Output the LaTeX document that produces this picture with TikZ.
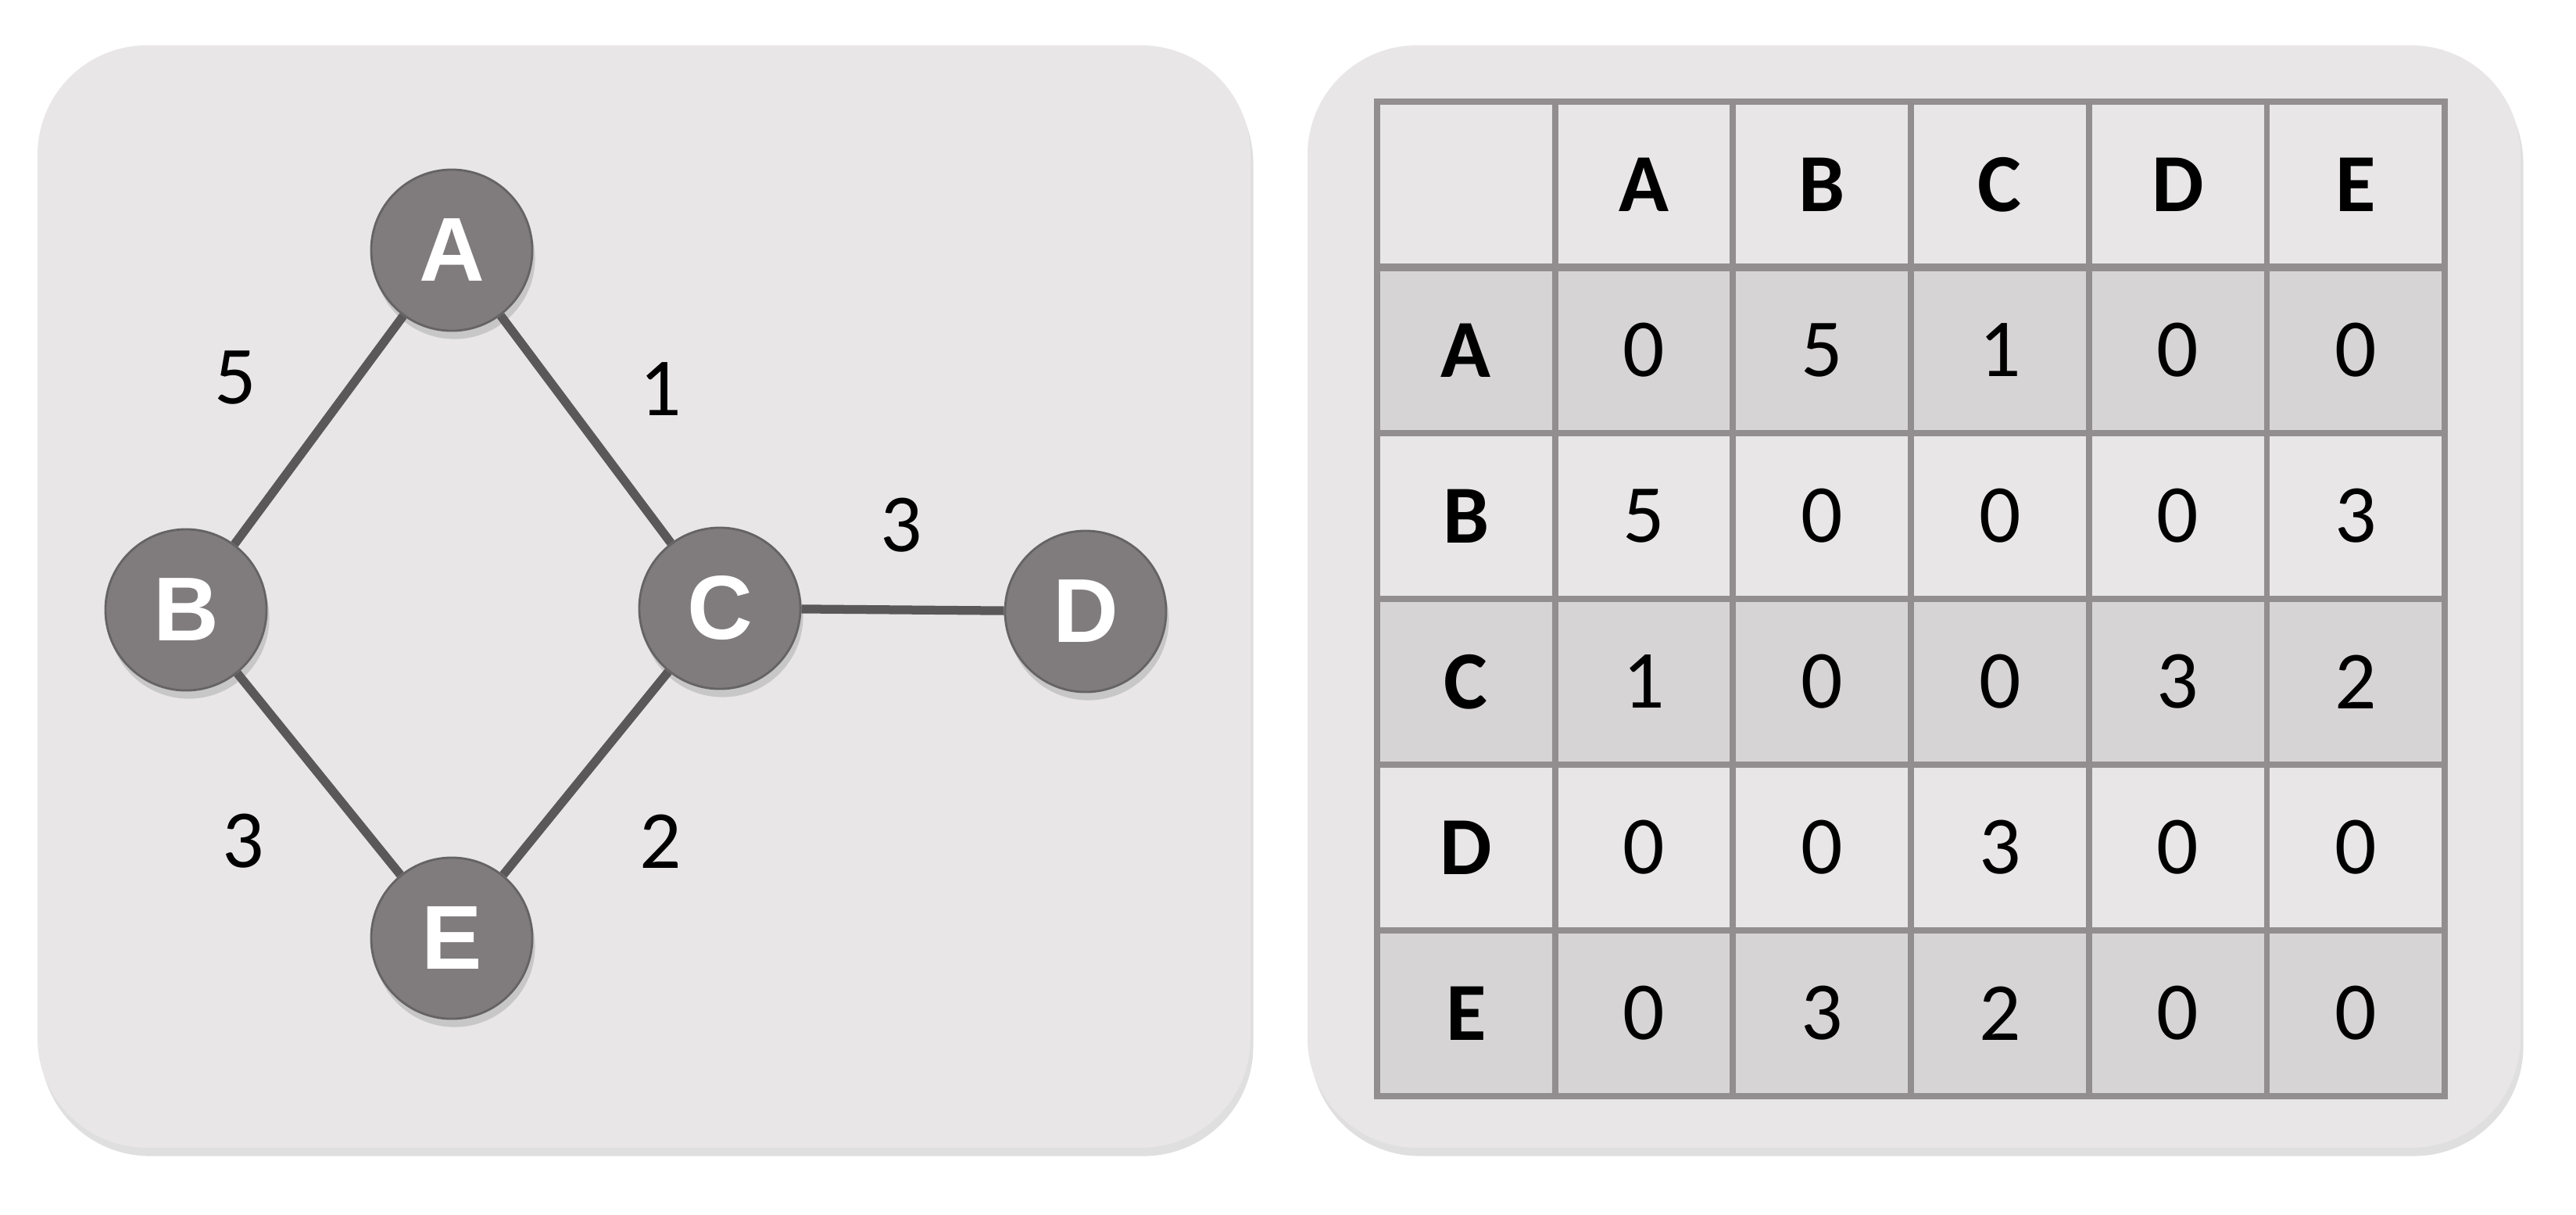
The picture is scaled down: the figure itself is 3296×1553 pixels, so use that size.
\documentclass[tikz,border=0pt]{standalone}
\usepackage{fontspec}
\setmainfont{Carlito}
\newfontfamily\vertexfont{Liberation Sans}
\usetikzlibrary{shadows}
\definecolor{panelgray}{HTML}{E8E6E7}
\definecolor{rowgray}{HTML}{D6D4D5}
\definecolor{gridgray}{HTML}{928E8F}
\definecolor{vertexgray}{HTML}{807C7D}
\definecolor{edgegray}{HTML}{5A5859}
\tikzset{
    panel/.style={fill=panelgray, rounded corners=1.4cm,
        drop shadow={shadow xshift=1pt, shadow yshift=-3pt, opacity=.25}},
    vertex/.style={circle, fill=vertexgray, draw=vertexgray!80!black, line width=.8pt,
        minimum size=2.06cm, inner sep=0pt, text=white,
        font=\vertexfont\bfseries\fontsize{33}{38}\selectfont,
        drop shadow={shadow xshift=1pt, shadow yshift=-3pt, opacity=.3}},
    edge/.style={draw=edgegray, line width=3.2pt},
    weight/.style={inner sep=0pt, font=\fontsize{30}{36}\selectfont},
    cell/.style={inner sep=0pt, font=\fontsize{30}{36}\selectfont},
    head/.style={inner sep=0pt, font=\bfseries\fontsize{30}{36}\selectfont},
    grid/.style={draw=gridgray, line width=2.2pt}
}
\begin{document}
\begin{tikzpicture}[x=0.01cm, y=-0.01cm]
        \fill[white] (0,0) rectangle (3296,1553);
        \path[panel] (48,58) rectangle (1600,1468);
        \path[panel] (1673,58) rectangle (3225,1468);

        \node[vertex] (A) at (578,320) {A};
        \node[vertex] (B) at (238,780) {B};
        \node[vertex] (C) at (921,778) {C};
        \node[vertex] (D) at (1389,782) {D};
        \node[vertex] (E) at (578,1200) {E};
        \draw[edge] (A) -- (B);
        \draw[edge] (A) -- (C);
        \draw[edge] (B) -- (E);
        \draw[edge] (C) -- (E);
        \draw[edge] (C) -- (D);
        \node[weight] (wAB) at (301,483) {5};
        \node[weight] (wAC) at (845,498) {1};
        \node[weight] (wCD) at (1153,672) {3};
        \node[weight] (wBE) at (311,1076) {3};
        \node[weight] (wCE) at (845,1076) {2};

        \foreach \r in {1,3,5}
            \fill[rowgray] (1762,{130+\r*212}) rectangle (3128,{342+\r*212});
        \foreach \i in {1,...,5} {
            \draw[grid] ({1762+\i*227.67},130) -- ({1762+\i*227.67},1402);
            \draw[grid] (1762,{130+\i*212}) -- (3128,{130+\i*212});
        }
        \draw[grid] (1762,130) rectangle (3128,1402);
        \draw[grid, line width=3pt] (1762,342) -- (3128,342);
        \foreach \l [count=\i] in {A,B,C,D,E} {
            \node[head] (col\l) at ({1762+(\i+.5)*227.67},236) {\l};
            \node[head] (row\l) at (1875.8,{130+(\i+.5)*212}) {\l};
        }
        \foreach \vals [count=\j] in {{0,5,1,0,0},{5,0,0,0,3},{1,0,0,3,2},{0,0,3,0,0},{0,3,2,0,0}}
            \foreach \v [count=\i] in \vals
                \node[cell] (m\j\i) at ({1762+(\i+.5)*227.67},{130+(\j+.5)*212}) {\v};
    \end{tikzpicture}
\end{document}
